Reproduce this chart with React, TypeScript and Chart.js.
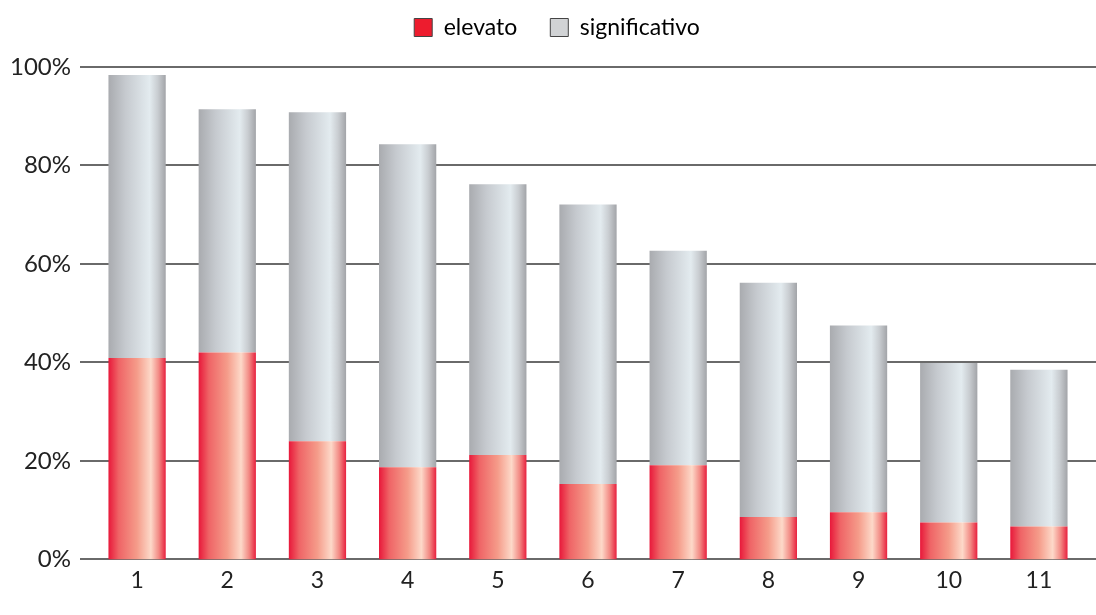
import { useEffect, useRef } from 'react';
import { Chart, registerables } from 'chart.js';

Chart.register(...registerables);

const categories = ['1', '2', '3', '4', '5', '6', '7', '8', '9', '10', '11'];
const elevato = [40.9, 42.0, 24.0, 18.7, 21.2, 15.3, 19.1, 8.6, 9.6, 7.5, 6.7];
const significativo = [57.5, 49.4, 66.8, 65.6, 55.0, 56.8, 43.6, 47.6, 37.9, 32.4, 31.8];
const yTicks = [0, 20, 40, 60, 80, 100];

const BAR_PCT = 0.635;
const FONT = 'Lato, "Open Sans", sans-serif';
const FONT_SIZE = 23;

const redStops: [number, string][] = [
  [0, '#e8183a'],
  [0.18, '#ef6466'],
  [0.5, '#f59c8a'],
  [0.74, '#fdd9c9'],
  [0.88, '#f28a84'],
  [1, '#e8203e'],
];
const grayStops: [number, string][] = [
  [0, '#a9abaf'],
  [0.3, '#c6cacf'],
  [0.72, '#e3ebef'],
  [0.86, '#c9cdd1'],
  [1, '#a2a4a8'],
];

function gradientFor(stops: [number, string][]) {
  return (ctx: any) => {
    const chart = ctx.chart;
    const xs = chart.scales?.x;
    if (!xs || !chart.chartArea || ctx.dataIndex === undefined) return stops[2][1];
    const cx = xs.getPixelForValue(ctx.dataIndex);
    const w = (xs.width / categories.length) * BAR_PCT;
    const g = chart.ctx.createLinearGradient(cx - w / 2, 0, cx + w / 2, 0);
    stops.forEach(([o, c]) => g.addColorStop(o, c));
    return g;
  };
}

const gridPlugin = {
  id: 'customGrid',
  beforeDatasetsDraw(chart: any) {
    const y = chart.scales.y;
    const c = chart.ctx;
    c.save();
    c.strokeStyle = '#383838';
    c.lineWidth = 1.5;
    yTicks.forEach((v) => {
      const py = Math.round(y.getPixelForValue(v));
      c.beginPath();
      c.moveTo(chart.chartArea.left - 12, py);
      c.lineTo(chart.width, py);
      c.stroke();
    });
    c.restore();
  },
};

const legendGap = {
  id: 'legendGap',
  beforeInit(chart: any) {
    const legend = chart.legend;
    if (!legend) return;
    const orig = legend.fit;
    legend.fit = function () {
      orig.call(this);
      this.height += 18;
    };
  },
  afterLayout(chart: any) {
    const legend = chart.legend;
    if (!legend) return;
    legend.left += 11;
    legend.right += 11;
  },
};

export default function App() {
  const ref = useRef<HTMLCanvasElement>(null);
  useEffect(() => {
    if (!ref.current) return;
    const chart = new Chart(ref.current, {
      type: 'bar',
      data: {
        labels: categories,
        datasets: [
          {
            label: 'elevato',
            data: elevato,
            backgroundColor: gradientFor(redStops) as any,
            borderWidth: 0,
            barPercentage: BAR_PCT,
            categoryPercentage: 1,
          },
          {
            label: 'significativo',
            data: significativo,
            backgroundColor: gradientFor(grayStops) as any,
            borderWidth: 0,
            barPercentage: BAR_PCT,
            categoryPercentage: 1,
          },
        ],
      },
      options: {
        animation: false,
        responsive: true,
        maintainAspectRatio: false,
        layout: { padding: { left: 8, right: 12, top: 0, bottom: 14 } },
        plugins: {
          tooltip: { enabled: false },
          legend: {
            position: 'top',
            labels: {
              boxWidth: 18,
              boxHeight: 18,
              padding: 33,
              color: '#222',
              font: { family: FONT, size: FONT_SIZE },
              generateLabels: () => [
                { text: 'elevato', fillStyle: '#ed1c2e', strokeStyle: '#444', lineWidth: 1, datasetIndex: 0 },
                { text: 'significativo', fillStyle: '#d1d3d5', strokeStyle: '#444', lineWidth: 1, datasetIndex: 1 },
              ] as any,
            },
          },
        },
        scales: {
          x: {
            stacked: true,
            grid: { display: false, drawTicks: false },
            border: { display: false },
            ticks: { color: '#222', font: { family: FONT, size: FONT_SIZE }, padding: 7 },
          },
          y: {
            stacked: true,
            min: 0,
            max: 100,
            grid: { display: false, drawTicks: false },
            border: { display: false },
            afterFit: (scale: any) => {
              scale.width = 84;
            },
            ticks: {
              stepSize: 20,
              color: '#222',
              padding: 21,
              font: { family: FONT, size: FONT_SIZE + 1 },
              callback: (v: any) => v + '%',
            },
          },
        },
      },
      plugins: [gridPlugin, legendGap],
    });
    return () => chart.destroy();
  }, []);
  return (
    <div style={{ position: 'fixed', left: 0, top: -17, width: 1096, height: 632, background: '#fff' }}>
      <canvas ref={ref} />
    </div>
  );
}
